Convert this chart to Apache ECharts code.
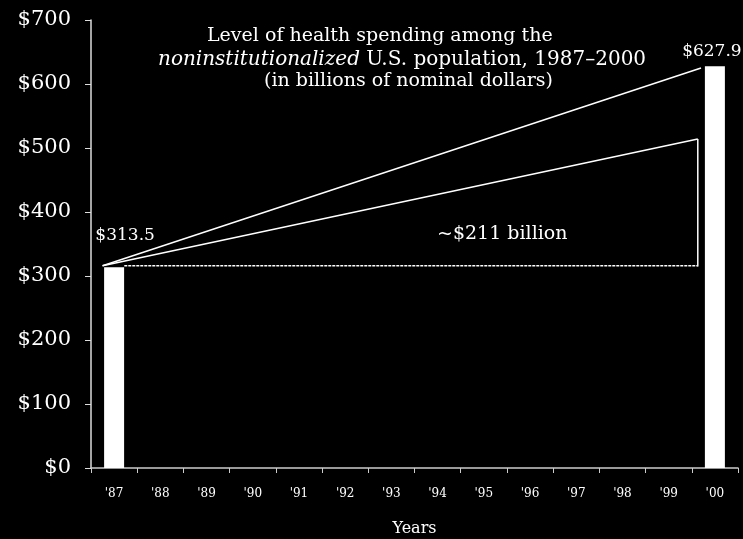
<!DOCTYPE html>
<html>
<head>
<meta charset="utf-8">
<script src="https://cdn.jsdelivr.net/npm/echarts@6/dist/echarts.min.js"></script>
<style>
html, body { margin: 0; padding: 0; background: #000; }
#main { width: 743px; height: 539px; }
</style>
</head>
<body>
<div id="main"></div>
<script>
// data
var years = ["'87", "'88", "'89", "'90", "'91", "'92", "'93", "'94", "'95", "'96", "'97", "'98", "'99", "'00"];
var spending = [313.5, null, null, null, null, null, null, null, null, null, null, null, null, 627.9];
var yTicks = [0, 100, 200, 300, 400, 500, 600, 700];
// trend lines (x in category index units)
var upperLine = [[-0.25, 316], [12.7, 625]];
var lowerLine = [[-0.25, 316], [12.63, 514]];
var gapLine = [[12.63, 315], [12.63, 514]];
var baseLine = [[0.22, 316], [12.63, 316]];

var serif = 'DejaVu Serif';
var chart = echarts.init(document.getElementById('main'));

var option = {
  backgroundColor: '#000',
  animation: false,
  grid: { left: 91, right: 5, top: 20, bottom: 71, outerBoundsMode: 'none' },
  graphic: [
    { type: 'text', left: 207, top: 27, style: { text: 'Level of health spending among the', fill: '#fff', font: '19px ' + serif } },
    { type: 'text', left: 158, top: 50, style: { text: '{i|noninstitutionalized} U.S. population, 1987–2000', fill: '#fff', font: '20px ' + serif,
        rich: { i: { fontStyle: 'italic', fontFamily: serif, fontSize: 20, fill: '#fff', color: '#fff' } } } },
    { type: 'text', left: 264, top: 72, style: { text: '(in billions of nominal dollars)', fill: '#fff', font: '19px ' + serif } },
    { type: 'text', left: 437, top: 225, style: { text: '~$211 billion', fill: '#fff', font: '19px ' + serif } }
  ],
  xAxis: [
    {
      type: 'category',
      data: years,
      boundaryGap: true,
      name: 'Years',
      nameLocation: 'middle',
      nameGap: 53,
      nameTextStyle: { color: '#fff', fontFamily: serif, fontSize: 16 },
      axisLine: { lineStyle: { color: '#ccc', width: 1.5 } },
      axisTick: { show: true, length: 5, lineStyle: { color: '#ccc' } },
      axisLabel: { color: '#fff', fontFamily: serif, fontSize: 12, margin: 20 },
      splitLine: { show: false }
    },
    { type: 'value', min: -0.5, max: 13.5, show: false }
  ],
  yAxis: {
    type: 'value',
    min: 0,
    max: 700,
    interval: 100,
    axisLine: { show: true, onZero: false, lineStyle: { color: '#ddd', width: 1.5 } },
    axisTick: { show: true, length: 6, lineStyle: { color: '#ddd' } },
    axisLabel: {
      color: '#fff', fontFamily: serif, fontSize: 21, margin: 20,
      formatter: function (v) { return yTicks.indexOf(v) >= 0 ? '$' + v : ''; }
    },
    splitLine: { show: false }
  },
  series: [
    {
      type: 'bar',
      data: spending.map(function (v, i) {
        if (v == null) return null;
        return {
          value: v,
          label: {
            show: true,
            position: 'top',
            offset: i === 0 ? [11, -18] : [-3, -1],
            formatter: '$' + v.toFixed(1),
            color: '#fff',
            fontFamily: serif,
            fontSize: 17
          }
        };
      }),
      barWidth: 20,
      itemStyle: { color: '#fff' }
    },
    {
      type: 'line', xAxisIndex: 1, data: upperLine, symbol: 'none',
      lineStyle: { color: '#fff', width: 1.5 }
    },
    {
      type: 'line', xAxisIndex: 1, data: lowerLine, symbol: 'none',
      lineStyle: { color: '#fff', width: 1.5 }
    },
    {
      type: 'line', xAxisIndex: 1, data: gapLine, symbol: 'none',
      lineStyle: { color: '#fff', width: 1.5 }
    },
    {
      type: 'line', xAxisIndex: 1, data: baseLine, symbol: 'none',
      lineStyle: { color: '#fff', width: 1.5, type: [3, 1] }
    }
  ]
};
chart.setOption(option);
</script>
</body>
</html>
